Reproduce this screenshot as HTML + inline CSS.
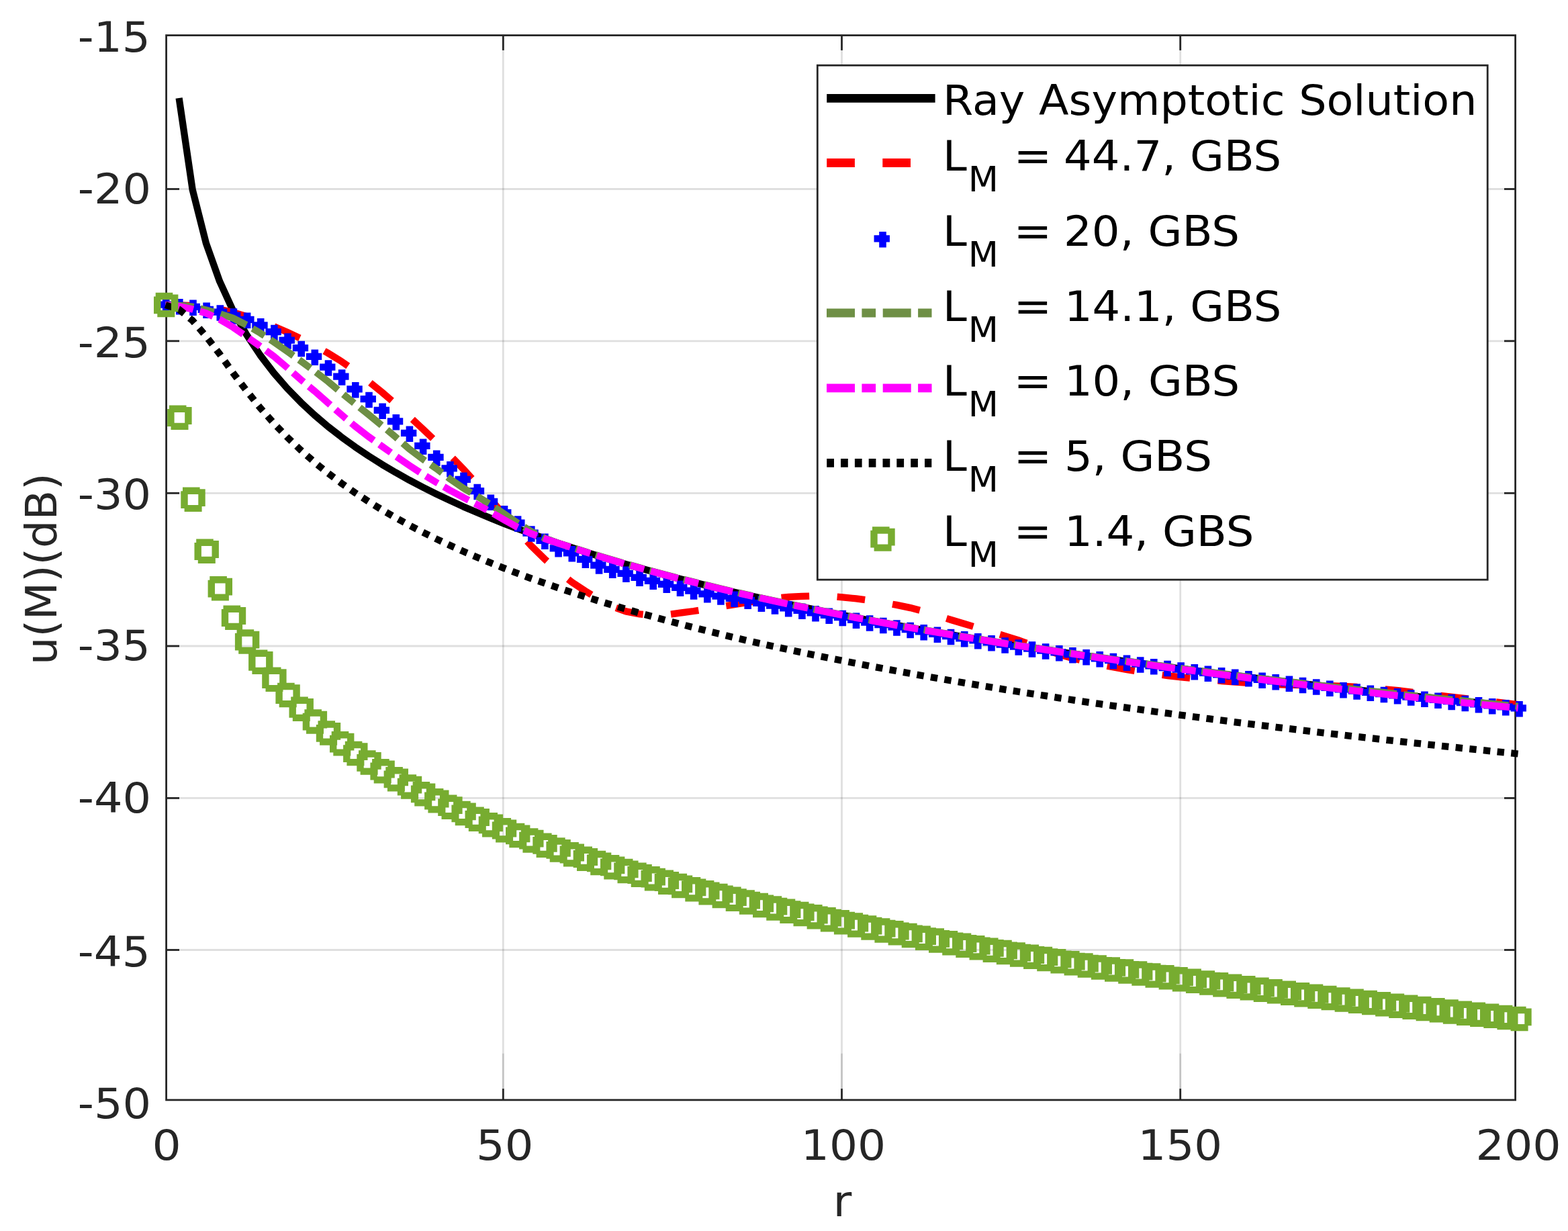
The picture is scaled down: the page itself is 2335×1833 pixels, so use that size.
<!DOCTYPE html>
<html lang="en"><head><meta charset="utf-8"><title>u(M)(dB) versus r</title>
<style>html,body{margin:0;padding:0;background:#fff;overflow:hidden}svg{display:block}text{font-family:'DejaVu Sans','Liberation Sans',sans-serif}</style></head><body>
<svg width="2335" height="1833" viewBox="0 0 2335 1833" role="img" aria-label="u(M)(dB) versus r for the ray asymptotic solution and Gaussian beam summation">
<rect width="2335" height="1833" fill="#fff"/>
<g stroke="#262626" stroke-opacity="0.15" stroke-width="2.8" fill="none">
<line x1="247.6" y1="281.5" x2="2256.6" y2="281.5"/>
<line x1="247.6" y1="507.8" x2="2256.6" y2="507.8"/>
<line x1="247.6" y1="734.3" x2="2256.6" y2="734.3"/>
<line x1="247.6" y1="962.0" x2="2256.6" y2="962.0"/>
<line x1="247.6" y1="1188.4" x2="2256.6" y2="1188.4"/>
<line x1="247.6" y1="1414.5" x2="2256.6" y2="1414.5"/>
<line x1="749.3" y1="52.6" x2="749.3" y2="1637.9"/>
<line x1="1253.5" y1="52.6" x2="1253.5" y2="1637.9"/>
<line x1="1757.7" y1="52.6" x2="1757.7" y2="1637.9"/>
</g>
<g stroke="#262626" stroke-opacity="0.15" stroke-width="2.8" fill="none">
<line x1="749.3" y1="1568.7" x2="749.3" y2="1621.1"/>
<line x1="1253.5" y1="1568.7" x2="1253.5" y2="1621.1"/>
<line x1="1757.7" y1="1568.7" x2="1757.7" y2="1621.1"/>
</g>
<g stroke="#262626" stroke-width="2.8" fill="none">
<rect x="247.6" y="52.6" width="2009.0" height="1585.3000000000002"/>
<line x1="247.6" y1="281.5" x2="267.0" y2="281.5"/>
<line x1="2256.6" y1="281.5" x2="2240.0" y2="281.5"/>
<line x1="247.6" y1="507.8" x2="267.0" y2="507.8"/>
<line x1="2256.6" y1="507.8" x2="2240.0" y2="507.8"/>
<line x1="247.6" y1="734.3" x2="267.0" y2="734.3"/>
<line x1="2256.6" y1="734.3" x2="2240.0" y2="734.3"/>
<line x1="247.6" y1="962.0" x2="267.0" y2="962.0"/>
<line x1="2256.6" y1="962.0" x2="2240.0" y2="962.0"/>
<line x1="247.6" y1="1188.4" x2="267.0" y2="1188.4"/>
<line x1="2256.6" y1="1188.4" x2="2240.0" y2="1188.4"/>
<line x1="247.6" y1="1414.5" x2="267.0" y2="1414.5"/>
<line x1="2256.6" y1="1414.5" x2="2240.0" y2="1414.5"/>
<line x1="749.3" y1="1637.9" x2="749.3" y2="1621.1"/>
<line x1="749.3" y1="52.6" x2="749.3" y2="74.9"/>
<line x1="1253.5" y1="1637.9" x2="1253.5" y2="1621.1"/>
<line x1="1253.5" y1="52.6" x2="1253.5" y2="74.9"/>
<line x1="1757.7" y1="1637.9" x2="1757.7" y2="1621.1"/>
<line x1="1757.7" y1="52.6" x2="1757.7" y2="74.9"/>
</g>
<path d="M266.6 146.0 L286.7 282.4 L306.9 362.2 L327.1 418.9 L347.2 462.8 L367.4 498.7 L387.6 529.0 L407.8 555.3 L427.9 578.5 L448.1 599.2 L468.3 618.0 L488.4 635.1 L508.6 650.8 L528.8 665.4 L549.0 679.0 L569.1 691.7 L589.3 703.6 L609.5 714.9 L629.6 725.5 L649.8 735.6 L670.0 745.2 L690.1 754.4 L710.3 763.1 L730.5 771.5 L750.7 779.6 L770.8 787.3 L791.0 794.7 L811.2 801.9 L831.3 808.8 L851.5 815.4 L871.7 821.9 L891.8 828.1 L912.0 834.2 L932.2 840.1 L952.4 845.8 L972.5 851.3 L992.7 856.7 L1012.9 862.0 L1033.0 867.1 L1053.2 872.1 L1073.4 876.9 L1093.5 881.7 L1113.7 886.3 L1133.9 890.8 L1154.1 895.2 L1174.2 899.6 L1194.4 903.8 L1214.6 907.9 L1234.7 912.0 L1254.9 916.0 L1275.1 919.9 L1295.2 923.7 L1315.4 927.4 L1335.6 931.1 L1355.8 934.7 L1375.9 938.3 L1396.1 941.8 L1416.3 945.2 L1436.4 948.6 L1456.6 951.9 L1476.8 955.1 L1496.9 958.3 L1517.1 961.5 L1537.3 964.6 L1557.5 967.6 L1577.6 970.6 L1597.8 973.6 L1618.0 976.5 L1638.1 979.4 L1658.3 982.2 L1678.5 985.0 L1698.6 987.7 L1718.8 990.5 L1739.0 993.1 L1759.2 995.8 L1779.3 998.4 L1799.5 1001.0 L1819.7 1003.5 L1839.8 1006.0 L1860.0 1008.5 L1880.2 1010.9 L1900.3 1013.3 L1920.5 1015.7 L1940.7 1018.1 L1960.9 1020.4 L1981.0 1022.7 L2001.2 1025.0 L2021.4 1027.2 L2041.5 1029.5 L2061.7 1031.7 L2081.9 1033.8 L2102.0 1036.0 L2122.2 1038.1 L2142.4 1040.2 L2162.6 1042.3 L2182.7 1044.4 L2202.9 1046.4 L2223.1 1048.4 L2243.2 1050.4 L2260.6 1052.1" fill="none" stroke="#000" stroke-width="10.3" stroke-linejoin="round"/>
<path d="M246.4 454.2 L266.6 454.5 L286.7 455.2 L306.9 457.3 L327.1 460.5 L347.2 465.2 L367.4 471.1 L387.6 478.4 L407.8 486.1 L427.9 494.6 L448.1 504.1 L468.3 514.5 L488.4 525.8 L508.6 538.2 L528.8 552.4 L549.0 568.0 L569.1 584.3 L589.3 601.6 L609.5 619.9 L629.6 638.7 L649.8 658.0 L670.0 677.9 L690.1 698.6 L710.3 720.7 L730.5 743.6 L750.7 766.4 L770.8 790.1 L791.0 812.8 L811.2 832.5 L831.3 850.7 L851.5 866.8 L871.7 880.1 L891.8 892.6 L912.0 903.3 L932.2 910.4 L952.4 914.4 L972.5 916.5 L992.7 915.4 L1012.9 912.7 L1033.0 910.0 L1053.2 906.8 L1073.4 903.4 L1093.5 900.2 L1113.7 897.0 L1133.9 893.8 L1154.1 890.9 L1174.2 888.8 L1194.4 887.9 L1214.6 887.3 L1234.7 887.5 L1254.9 889.3 L1275.1 891.4 L1295.2 894.0 L1315.4 897.2 L1335.6 900.9 L1355.8 905.1 L1375.9 910.4 L1396.1 916.6 L1416.3 923.0 L1436.4 929.0 L1456.6 935.0 L1476.8 941.0 L1496.9 947.1 L1517.1 953.5 L1537.3 960.6 L1557.5 967.7 L1577.6 974.5 L1597.8 980.2 L1618.0 985.1 L1638.1 989.6 L1658.3 993.5 L1678.5 997.1 L1698.6 1000.4 L1718.8 1003.4 L1739.0 1006.1 L1759.2 1008.4 L1779.3 1010.5 L1799.5 1012.3 L1819.7 1014.0 L1839.8 1015.5 L1860.0 1016.9 L1880.2 1018.2 L1900.3 1019.2 L1920.5 1019.8 L1940.7 1020.1 L1960.9 1020.5 L1981.0 1021.1 L2001.2 1021.9 L2021.4 1023.0 L2041.5 1024.4 L2061.7 1026.2 L2081.9 1028.2 L2102.0 1030.5 L2122.2 1033.0 L2142.4 1035.5 L2162.6 1037.8 L2182.7 1040.2 L2202.9 1042.5 L2223.1 1044.9 L2243.2 1047.2 L2260.6 1049.2" fill="none" stroke="#f00" stroke-width="10.3" stroke-dasharray="41.7 41.5"/>
<path d="M241.9 443.3h10.6v5.25h5.14v10.25h-5.14v8h-10.6v-8h-7.66v-10.25h7.66zM262.0 445.1h10.6v5.25h5.14v10.25h-5.14v8h-10.6v-8h-7.66v-10.25h7.66zM282.2 446.5h10.6v5.25h5.14v10.25h-5.14v8h-10.6v-8h-7.66v-10.25h7.66zM302.3 450.6h10.6v5.25h5.14v10.25h-5.14v8h-10.6v-8h-7.66v-10.25h7.66zM322.5 454.2h10.6v5.25h5.14v10.25h-5.14v8h-10.6v-8h-7.66v-10.25h7.66zM342.6 459.2h10.6v5.25h5.14v10.25h-5.14v8h-10.6v-8h-7.66v-10.25h7.66zM362.8 465.5h10.6v5.25h5.14v10.25h-5.14v8h-10.6v-8h-7.66v-10.25h7.66zM382.9 474.1h10.6v5.25h5.14v10.25h-5.14v8h-10.6v-8h-7.66v-10.25h7.66zM403.1 483.7h10.6v5.25h5.14v10.25h-5.14v8h-10.6v-8h-7.66v-10.25h7.66zM423.2 496.3h10.6v5.25h5.14v10.25h-5.14v8h-10.6v-8h-7.66v-10.25h7.66zM443.4 507.7h10.6v5.25h5.14v10.25h-5.14v8h-10.6v-8h-7.66v-10.25h7.66zM463.5 520.4h10.6v5.25h5.14v10.25h-5.14v8h-10.6v-8h-7.66v-10.25h7.66zM483.7 536.2h10.6v5.25h5.14v10.25h-5.14v8h-10.6v-8h-7.66v-10.25h7.66zM503.8 550.3h10.6v5.25h5.14v10.25h-5.14v8h-10.6v-8h-7.66v-10.25h7.66zM524.0 568.9h10.6v5.25h5.14v10.25h-5.14v8h-10.6v-8h-7.66v-10.25h7.66zM544.2 583.8h10.6v5.25h5.14v10.25h-5.14v8h-10.6v-8h-7.66v-10.25h7.66zM564.3 600.6h10.6v5.25h5.14v10.25h-5.14v8h-10.6v-8h-7.66v-10.25h7.66zM584.5 616.9h10.6v5.25h5.14v10.25h-5.14v8h-10.6v-8h-7.66v-10.25h7.66zM604.6 634.6h10.6v5.25h5.14v10.25h-5.14v8h-10.6v-8h-7.66v-10.25h7.66zM624.8 653.6h10.6v5.25h5.14v10.25h-5.14v8h-10.6v-8h-7.66v-10.25h7.66zM644.9 670.4h10.6v5.25h5.14v10.25h-5.14v8h-10.6v-8h-7.66v-10.25h7.66zM665.1 687.1h10.6v5.25h5.14v10.25h-5.14v8h-10.6v-8h-7.66v-10.25h7.66zM685.2 703.5h10.6v5.25h5.14v10.25h-5.14v8h-10.6v-8h-7.66v-10.25h7.66zM705.4 720.7h10.6v5.25h5.14v10.25h-5.14v8h-10.6v-8h-7.66v-10.25h7.66zM725.5 736.5h10.6v5.25h5.14v10.25h-5.14v8h-10.6v-8h-7.66v-10.25h7.66zM745.7 752.9h10.6v5.25h5.14v10.25h-5.14v8h-10.6v-8h-7.66v-10.25h7.66zM765.8 768.3h10.6v5.25h5.14v10.25h-5.14v8h-10.6v-8h-7.66v-10.25h7.66zM786.0 783.2h10.6v5.25h5.14v10.25h-5.14v8h-10.6v-8h-7.66v-10.25h7.66zM806.1 794.6h10.6v5.25h5.14v10.25h-5.14v8h-10.6v-8h-7.66v-10.25h7.66zM826.3 805.9h10.6v5.25h5.14v10.25h-5.14v8h-10.6v-8h-7.66v-10.25h7.66zM846.5 813.1h10.6v5.25h5.14v10.25h-5.14v8h-10.6v-8h-7.66v-10.25h7.66zM866.6 822.4h10.6v5.25h5.14v10.25h-5.14v8h-10.6v-8h-7.66v-10.25h7.66zM886.8 831.3h10.6v5.25h5.14v10.25h-5.14v8h-10.6v-8h-7.66v-10.25h7.66zM906.9 837.6h10.6v5.25h5.14v10.25h-5.14v8h-10.6v-8h-7.66v-10.25h7.66zM927.1 843.6h10.6v5.25h5.14v10.25h-5.14v8h-10.6v-8h-7.66v-10.25h7.66zM947.2 849.4h10.6v5.25h5.14v10.25h-5.14v8h-10.6v-8h-7.66v-10.25h7.66zM967.4 854.6h10.6v5.25h5.14v10.25h-5.14v8h-10.6v-8h-7.66v-10.25h7.66zM987.5 859.6h10.6v5.25h5.14v10.25h-5.14v8h-10.6v-8h-7.66v-10.25h7.66zM1007.7 864.5h10.6v5.25h5.14v10.25h-5.14v8h-10.6v-8h-7.66v-10.25h7.66zM1027.8 869.3h10.6v5.25h5.14v10.25h-5.14v8h-10.6v-8h-7.66v-10.25h7.66zM1048.0 873.9h10.6v5.25h5.14v10.25h-5.14v8h-10.6v-8h-7.66v-10.25h7.66zM1068.1 877.3h10.6v5.25h5.14v10.25h-5.14v8h-10.6v-8h-7.66v-10.25h7.66zM1088.3 880.5h10.6v5.25h5.14v10.25h-5.14v8h-10.6v-8h-7.66v-10.25h7.66zM1108.4 883.6h10.6v5.25h5.14v10.25h-5.14v8h-10.6v-8h-7.66v-10.25h7.66zM1128.6 887.5h10.6v5.25h5.14v10.25h-5.14v8h-10.6v-8h-7.66v-10.25h7.66zM1148.7 891.3h10.6v5.25h5.14v10.25h-5.14v8h-10.6v-8h-7.66v-10.25h7.66zM1168.9 894.9h10.6v5.25h5.14v10.25h-5.14v8h-10.6v-8h-7.66v-10.25h7.66zM1189.1 898.5h10.6v5.25h5.14v10.25h-5.14v8h-10.6v-8h-7.66v-10.25h7.66zM1209.2 902.0h10.6v5.25h5.14v10.25h-5.14v8h-10.6v-8h-7.66v-10.25h7.66zM1229.4 905.4h10.6v5.25h5.14v10.25h-5.14v8h-10.6v-8h-7.66v-10.25h7.66zM1249.5 908.8h10.6v5.25h5.14v10.25h-5.14v8h-10.6v-8h-7.66v-10.25h7.66zM1269.7 912.5h10.6v5.25h5.14v10.25h-5.14v8h-10.6v-8h-7.66v-10.25h7.66zM1289.8 916.2h10.6v5.25h5.14v10.25h-5.14v8h-10.6v-8h-7.66v-10.25h7.66zM1310.0 919.7h10.6v5.25h5.14v10.25h-5.14v8h-10.6v-8h-7.66v-10.25h7.66zM1330.1 923.3h10.6v5.25h5.14v10.25h-5.14v8h-10.6v-8h-7.66v-10.25h7.66zM1350.3 926.7h10.6v5.25h5.14v10.25h-5.14v8h-10.6v-8h-7.66v-10.25h7.66zM1370.4 930.1h10.6v5.25h5.14v10.25h-5.14v8h-10.6v-8h-7.66v-10.25h7.66zM1390.6 933.4h10.6v5.25h5.14v10.25h-5.14v8h-10.6v-8h-7.66v-10.25h7.66zM1410.7 936.7h10.6v5.25h5.14v10.25h-5.14v8h-10.6v-8h-7.66v-10.25h7.66zM1430.9 939.9h10.6v5.25h5.14v10.25h-5.14v8h-10.6v-8h-7.66v-10.25h7.66zM1451.0 943.0h10.6v5.25h5.14v10.25h-5.14v8h-10.6v-8h-7.66v-10.25h7.66zM1471.2 946.1h10.6v5.25h5.14v10.25h-5.14v8h-10.6v-8h-7.66v-10.25h7.66zM1491.3 949.2h10.6v5.25h5.14v10.25h-5.14v8h-10.6v-8h-7.66v-10.25h7.66zM1511.5 952.3h10.6v5.25h5.14v10.25h-5.14v8h-10.6v-8h-7.66v-10.25h7.66zM1531.7 955.3h10.6v5.25h5.14v10.25h-5.14v8h-10.6v-8h-7.66v-10.25h7.66zM1551.8 958.2h10.6v5.25h5.14v10.25h-5.14v8h-10.6v-8h-7.66v-10.25h7.66zM1572.0 961.1h10.6v5.25h5.14v10.25h-5.14v8h-10.6v-8h-7.66v-10.25h7.66zM1592.1 964.1h10.6v5.25h5.14v10.25h-5.14v8h-10.6v-8h-7.66v-10.25h7.66zM1612.3 967.0h10.6v5.25h5.14v10.25h-5.14v8h-10.6v-8h-7.66v-10.25h7.66zM1632.4 969.9h10.6v5.25h5.14v10.25h-5.14v8h-10.6v-8h-7.66v-10.25h7.66zM1652.6 972.7h10.6v5.25h5.14v10.25h-5.14v8h-10.6v-8h-7.66v-10.25h7.66zM1672.7 975.5h10.6v5.25h5.14v10.25h-5.14v8h-10.6v-8h-7.66v-10.25h7.66zM1692.9 978.3h10.6v5.25h5.14v10.25h-5.14v8h-10.6v-8h-7.66v-10.25h7.66zM1713.0 981.0h10.6v5.25h5.14v10.25h-5.14v8h-10.6v-8h-7.66v-10.25h7.66zM1733.2 983.7h10.6v5.25h5.14v10.25h-5.14v8h-10.6v-8h-7.66v-10.25h7.66zM1753.3 986.3h10.6v5.25h5.14v10.25h-5.14v8h-10.6v-8h-7.66v-10.25h7.66zM1773.5 988.9h10.6v5.25h5.14v10.25h-5.14v8h-10.6v-8h-7.66v-10.25h7.66zM1793.6 991.5h10.6v5.25h5.14v10.25h-5.14v8h-10.6v-8h-7.66v-10.25h7.66zM1813.8 994.0h10.6v5.25h5.14v10.25h-5.14v8h-10.6v-8h-7.66v-10.25h7.66zM1833.9 996.5h10.6v5.25h5.14v10.25h-5.14v8h-10.6v-8h-7.66v-10.25h7.66zM1854.1 999.0h10.6v5.25h5.14v10.25h-5.14v8h-10.6v-8h-7.66v-10.25h7.66zM1874.3 1001.5h10.6v5.25h5.14v10.25h-5.14v8h-10.6v-8h-7.66v-10.25h7.66zM1894.4 1004.0h10.6v5.25h5.14v10.25h-5.14v8h-10.6v-8h-7.66v-10.25h7.66zM1914.6 1006.4h10.6v5.25h5.14v10.25h-5.14v8h-10.6v-8h-7.66v-10.25h7.66zM1934.7 1008.8h10.6v5.25h5.14v10.25h-5.14v8h-10.6v-8h-7.66v-10.25h7.66zM1954.9 1011.2h10.6v5.25h5.14v10.25h-5.14v8h-10.6v-8h-7.66v-10.25h7.66zM1975.0 1013.6h10.6v5.25h5.14v10.25h-5.14v8h-10.6v-8h-7.66v-10.25h7.66zM1995.2 1015.9h10.6v5.25h5.14v10.25h-5.14v8h-10.6v-8h-7.66v-10.25h7.66zM2015.3 1018.2h10.6v5.25h5.14v10.25h-5.14v8h-10.6v-8h-7.66v-10.25h7.66zM2035.5 1020.5h10.6v5.25h5.14v10.25h-5.14v8h-10.6v-8h-7.66v-10.25h7.66zM2055.6 1022.8h10.6v5.25h5.14v10.25h-5.14v8h-10.6v-8h-7.66v-10.25h7.66zM2075.8 1025.0h10.6v5.25h5.14v10.25h-5.14v8h-10.6v-8h-7.66v-10.25h7.66zM2095.9 1027.2h10.6v5.25h5.14v10.25h-5.14v8h-10.6v-8h-7.66v-10.25h7.66zM2116.1 1029.4h10.6v5.25h5.14v10.25h-5.14v8h-10.6v-8h-7.66v-10.25h7.66zM2136.2 1031.5h10.6v5.25h5.14v10.25h-5.14v8h-10.6v-8h-7.66v-10.25h7.66zM2156.4 1033.7h10.6v5.25h5.14v10.25h-5.14v8h-10.6v-8h-7.66v-10.25h7.66zM2176.5 1035.8h10.6v5.25h5.14v10.25h-5.14v8h-10.6v-8h-7.66v-10.25h7.66zM2196.7 1037.9h10.6v5.25h5.14v10.25h-5.14v8h-10.6v-8h-7.66v-10.25h7.66zM2216.9 1040.0h10.6v5.25h5.14v10.25h-5.14v8h-10.6v-8h-7.66v-10.25h7.66zM2237.0 1042.0h10.6v5.25h5.14v10.25h-5.14v8h-10.6v-8h-7.66v-10.25h7.66zM2257.2 1044.1h10.6v5.25h5.14v10.25h-5.14v8h-10.6v-8h-7.66v-10.25h7.66z" fill="#00f"/>
<path d="M246.4 454.2 L266.6 454.8 L286.7 456.7 L306.9 461.5 L327.1 467.1 L347.2 473.8 L367.4 484.1 L387.6 495.9 L407.8 509.3 L427.9 523.3 L448.1 537.7 L468.3 552.5 L488.4 568.0 L508.6 585.0 L528.8 601.5 L549.0 617.4 L569.1 633.9 L589.3 650.9 L609.5 668.6 L629.6 683.6 L649.8 697.7 L670.0 713.2 L690.1 726.9 L710.3 738.7 L730.5 751.3 L750.7 765.1 L770.8 778.8 L791.0 791.3 L811.2 801.4 L831.3 808.8 L851.5 815.1 L871.7 821.4 L891.8 827.7 L912.0 833.7 L932.2 839.6 L952.4 845.3 L972.5 850.9 L992.7 856.3 L1012.9 861.5 L1033.0 866.6 L1053.2 871.6 L1073.4 876.5 L1093.5 881.2 L1113.7 885.8 L1133.9 890.4 L1154.1 894.8 L1174.2 899.1 L1194.4 903.3 L1214.6 907.5 L1234.7 911.6 L1254.9 915.5 L1275.1 919.4 L1295.2 923.2 L1315.4 927.0 L1335.6 930.7 L1355.8 934.3 L1375.9 937.8 L1396.1 941.3 L1416.3 944.7 L1436.4 948.1 L1456.6 951.4 L1476.8 954.7 L1496.9 957.9 L1517.1 961.0 L1537.3 964.1 L1557.5 967.2 L1577.6 970.2 L1597.8 973.1 L1618.0 976.0 L1638.1 978.9 L1658.3 981.8 L1678.5 984.5 L1698.6 987.3 L1718.8 990.0 L1739.0 992.7 L1759.2 995.3 L1779.3 997.9 L1799.5 1000.5 L1819.7 1003.1 L1839.8 1005.6 L1860.0 1008.0 L1880.2 1010.5 L1900.3 1012.9 L1920.5 1015.3 L1940.7 1017.6 L1960.9 1020.0 L1981.0 1022.3 L2001.2 1024.5 L2021.4 1026.8 L2041.5 1029.0 L2061.7 1031.2 L2081.9 1033.4 L2102.0 1035.5 L2122.2 1037.7 L2142.4 1039.8 L2162.6 1041.9 L2182.7 1043.9 L2202.9 1046.0 L2223.1 1048.0 L2243.2 1050.0 L2260.6 1051.7" fill="none" stroke="#6e8f45" stroke-width="10.3" stroke-dasharray="42 10.4 20.8 10.4"/>
<path d="M246.4 454.2 L266.6 456.1 L286.7 460.5 L306.9 466.3 L327.1 475.6 L347.2 487.4 L367.4 501.3 L387.6 515.7 L407.8 530.6 L427.9 547.7 L448.1 565.4 L468.3 582.2 L488.4 599.9 L508.6 617.7 L528.8 634.7 L549.0 650.3 L569.1 664.7 L589.3 679.1 L609.5 693.0 L629.6 706.1 L649.8 718.4 L670.0 730.0 L690.1 740.8 L710.3 751.2 L730.5 762.3 L750.7 774.0 L770.8 785.2 L791.0 794.7 L811.2 802.2 L831.3 808.9 L851.5 815.4 L871.7 821.9 L891.8 828.1 L912.0 834.2 L932.2 840.1 L952.4 845.8 L972.5 851.3 L992.7 856.7 L1012.9 862.0 L1033.0 867.1 L1053.2 872.1 L1073.4 876.9 L1093.5 881.7 L1113.7 886.3 L1133.9 890.8 L1154.1 895.2 L1174.2 899.6 L1194.4 903.8 L1214.6 907.9 L1234.7 912.0 L1254.9 916.0 L1275.1 919.9 L1295.2 923.7 L1315.4 927.4 L1335.6 931.1 L1355.8 934.7 L1375.9 938.3 L1396.1 941.8 L1416.3 945.2 L1436.4 948.6 L1456.6 951.9 L1476.8 955.1 L1496.9 958.3 L1517.1 961.5 L1537.3 964.6 L1557.5 967.6 L1577.6 970.7 L1597.8 973.7 L1618.0 976.7 L1638.1 979.6 L1658.3 982.5 L1678.5 985.4 L1698.6 988.2 L1718.8 991.0 L1739.0 993.8 L1759.2 996.5 L1779.3 999.2 L1799.5 1001.9 L1819.7 1004.5 L1839.8 1007.1 L1860.0 1009.6 L1880.2 1012.1 L1900.3 1014.6 L1920.5 1017.1 L1940.7 1019.5 L1960.9 1021.9 L1981.0 1024.3 L2001.2 1026.7 L2021.4 1029.0 L2041.5 1031.3 L2061.7 1033.6 L2081.9 1035.8 L2102.0 1038.0 L2122.2 1040.2 L2142.4 1042.4 L2162.6 1044.6 L2182.7 1046.6 L2202.9 1048.7 L2223.1 1050.7 L2243.2 1052.7 L2260.6 1054.4" fill="none" stroke="#f0f" stroke-width="10.3" stroke-dasharray="42 10.4 20.8 10.4"/>
<path d="M246.4 454.2 L266.6 460.8 L286.7 477.3 L306.9 500.7 L327.1 527.1 L347.2 555.5 L367.4 582.0 L387.6 607.4 L407.8 630.3 L427.9 651.1 L448.1 670.4 L468.3 688.2 L488.4 704.5 L508.6 719.7 L528.8 733.7 L549.0 746.9 L569.1 759.3 L589.3 771.0 L609.5 782.1 L629.6 792.6 L649.8 802.5 L670.0 812.0 L690.1 821.1 L710.3 829.7 L730.5 838.1 L750.7 846.1 L770.8 853.8 L791.0 861.3 L811.2 868.4 L831.3 875.4 L851.5 882.1 L871.7 888.6 L891.8 894.9 L912.0 901.0 L932.2 907.0 L952.4 912.8 L972.5 918.4 L992.7 923.9 L1012.9 929.2 L1033.0 934.4 L1053.2 939.5 L1073.4 944.4 L1093.5 949.3 L1113.7 954.0 L1133.9 958.5 L1154.1 963.0 L1174.2 967.3 L1194.4 971.6 L1214.6 975.8 L1234.7 979.9 L1254.9 983.9 L1275.1 987.8 L1295.2 991.7 L1315.4 995.5 L1335.6 999.2 L1355.8 1002.9 L1375.9 1006.5 L1396.1 1010.0 L1416.3 1013.5 L1436.4 1016.9 L1456.6 1020.2 L1476.8 1023.5 L1496.9 1026.8 L1517.1 1030.0 L1537.3 1033.1 L1557.5 1036.2 L1577.6 1039.3 L1597.8 1042.3 L1618.0 1045.3 L1638.1 1048.2 L1658.3 1051.1 L1678.5 1053.9 L1698.6 1056.7 L1718.8 1059.5 L1739.0 1062.2 L1759.2 1064.9 L1779.3 1067.5 L1799.5 1070.2 L1819.7 1072.7 L1839.8 1075.3 L1860.0 1077.8 L1880.2 1080.3 L1900.3 1082.8 L1920.5 1085.2 L1940.7 1087.6 L1960.9 1090.0 L1981.0 1092.4 L2001.2 1094.7 L2021.4 1097.0 L2041.5 1099.2 L2061.7 1101.5 L2081.9 1103.7 L2102.0 1105.9 L2122.2 1108.1 L2142.4 1110.3 L2162.6 1112.4 L2182.7 1114.5 L2202.9 1116.6 L2223.1 1118.7 L2243.2 1120.7 L2260.6 1122.5" fill="none" stroke="#000" stroke-width="10.3" stroke-dasharray="10.4 10.360"/>
<path d="M231.7 435.8L257.3 435.8L257.3 438.4L265.4 438.4L265.4 464.2L260.3 464.2L260.3 472.3L234.3 472.3L234.3 467.2L229.0 467.2L229.0 441.4L231.7 441.4ZM239.4 446.3L239.4 462.1L255.0 462.1L255.0 446.3ZM251.9 603.5L277.5 603.5L277.5 606.1L285.6 606.1L285.6 631.9L280.5 631.9L280.5 640.0L254.5 640.0L254.5 634.9L249.2 634.9L249.2 609.1L251.9 609.1ZM259.6 614.0L259.6 629.8L275.2 629.8L275.2 614.0ZM272.0 725.6L297.6 725.6L297.6 728.2L305.7 728.2L305.7 754.0L300.6 754.0L300.6 762.1L274.6 762.1L274.6 757.0L269.3 757.0L269.3 731.2L272.0 731.2ZM279.7 736.1L279.7 751.9L295.3 751.9L295.3 736.1ZM292.2 802.5L317.8 802.5L317.8 805.1L325.9 805.1L325.9 830.9L320.8 830.9L320.8 839.0L294.8 839.0L294.8 833.9L289.5 833.9L289.5 808.1L292.2 808.1ZM299.9 813.0L299.9 828.8L315.5 828.8L315.5 813.0ZM312.3 858.1L337.9 858.1L337.9 860.7L346.0 860.7L346.0 886.5L340.9 886.5L340.9 894.6L314.9 894.6L314.9 889.5L309.6 889.5L309.6 863.7L312.3 863.7ZM320.0 868.6L320.0 884.4L335.6 884.4L335.6 868.6ZM332.5 901.5L358.1 901.5L358.1 904.1L366.2 904.1L366.2 929.9L361.1 929.9L361.1 938.0L335.1 938.0L335.1 932.9L329.8 932.9L329.8 907.1L332.5 907.1ZM340.2 912.0L340.2 927.8L355.8 927.8L355.8 912.0ZM352.6 937.2L378.2 937.2L378.2 939.8L386.3 939.8L386.3 965.6L381.2 965.6L381.2 973.7L355.2 973.7L355.2 968.6L349.9 968.6L349.9 942.8L352.6 942.8ZM360.3 947.7L360.3 963.5L375.9 963.5L375.9 947.7ZM372.8 967.4L398.4 967.4L398.4 970.0L406.5 970.0L406.5 995.8L401.4 995.8L401.4 1003.9L375.4 1003.9L375.4 998.8L370.1 998.8L370.1 973.0L372.8 973.0ZM380.5 977.9L380.5 993.7L396.1 993.7L396.1 977.9ZM392.9 993.6L418.5 993.6L418.5 996.2L426.6 996.2L426.6 1022.0L421.5 1022.0L421.5 1030.1L395.5 1030.1L395.5 1025.0L390.2 1025.0L390.2 999.2L392.9 999.2ZM400.6 1004.1L400.6 1019.9L416.2 1019.9L416.2 1004.1ZM413.1 1016.7L438.7 1016.7L438.7 1019.3L446.8 1019.3L446.8 1045.1L441.7 1045.1L441.7 1053.2L415.7 1053.2L415.7 1048.1L410.4 1048.1L410.4 1022.3L413.1 1022.3ZM420.8 1027.2L420.8 1043.0L436.4 1043.0L436.4 1027.2ZM433.2 1037.4L458.8 1037.4L458.8 1040.0L466.9 1040.0L466.9 1065.8L461.8 1065.8L461.8 1073.9L435.8 1073.9L435.8 1068.8L430.5 1068.8L430.5 1043.0L433.2 1043.0ZM440.9 1047.9L440.9 1063.7L456.5 1063.7L456.5 1047.9ZM453.4 1056.2L479.0 1056.2L479.0 1058.8L487.1 1058.8L487.1 1084.6L482.0 1084.6L482.0 1092.7L456.0 1092.7L456.0 1087.6L450.7 1087.6L450.7 1061.8L453.4 1061.8ZM461.1 1066.7L461.1 1082.5L476.7 1082.5L476.7 1066.7ZM473.5 1073.3L499.1 1073.3L499.1 1075.9L507.2 1075.9L507.2 1101.7L502.1 1101.7L502.1 1109.8L476.1 1109.8L476.1 1104.7L470.8 1104.7L470.8 1078.9L473.5 1078.9ZM481.2 1083.8L481.2 1099.6L496.8 1099.6L496.8 1083.8ZM493.7 1089.1L519.3 1089.1L519.3 1091.7L527.4 1091.7L527.4 1117.5L522.3 1117.5L522.3 1125.6L496.3 1125.6L496.3 1120.5L491.0 1120.5L491.0 1094.7L493.7 1094.7ZM501.4 1099.6L501.4 1115.4L517.0 1115.4L517.0 1099.6ZM513.8 1103.7L539.4 1103.7L539.4 1106.3L547.5 1106.3L547.5 1132.1L542.4 1132.1L542.4 1140.2L516.4 1140.2L516.4 1135.1L511.1 1135.1L511.1 1109.3L513.8 1109.3ZM521.5 1114.2L521.5 1130.0L537.1 1130.0L537.1 1114.2ZM534.0 1117.3L559.6 1117.3L559.6 1119.9L567.7 1119.9L567.7 1145.7L562.6 1145.7L562.6 1153.8L536.6 1153.8L536.6 1148.7L531.3 1148.7L531.3 1122.9L534.0 1122.9ZM541.7 1127.8L541.7 1143.6L557.3 1143.6L557.3 1127.8ZM554.1 1130.0L579.7 1130.0L579.7 1132.6L587.8 1132.6L587.8 1158.4L582.7 1158.4L582.7 1166.5L556.7 1166.5L556.7 1161.4L551.4 1161.4L551.4 1135.6L554.1 1135.6ZM561.8 1140.5L561.8 1156.3L577.4 1156.3L577.4 1140.5ZM574.3 1141.9L599.9 1141.9L599.9 1144.5L608.0 1144.5L608.0 1170.3L602.9 1170.3L602.9 1178.4L576.9 1178.4L576.9 1173.3L571.6 1173.3L571.6 1147.5L574.3 1147.5ZM582.0 1152.4L582.0 1168.2L597.6 1168.2L597.6 1152.4ZM594.5 1153.2L620.1 1153.2L620.1 1155.8L628.2 1155.8L628.2 1181.6L623.1 1181.6L623.1 1189.7L597.1 1189.7L597.1 1184.6L591.8 1184.6L591.8 1158.8L594.5 1158.8ZM602.2 1163.7L602.2 1179.5L617.8 1179.5L617.8 1163.7ZM614.6 1163.9L640.2 1163.9L640.2 1166.5L648.3 1166.5L648.3 1192.3L643.2 1192.3L643.2 1200.4L617.2 1200.4L617.2 1195.3L611.9 1195.3L611.9 1169.5L614.6 1169.5ZM622.3 1174.4L622.3 1190.2L637.9 1190.2L637.9 1174.4ZM634.8 1174.0L660.4 1174.0L660.4 1176.6L668.5 1176.6L668.5 1202.4L663.4 1202.4L663.4 1210.5L637.4 1210.5L637.4 1205.4L632.1 1205.4L632.1 1179.6L634.8 1179.6ZM642.5 1184.5L642.5 1200.3L658.1 1200.3L658.1 1184.5ZM654.9 1183.6L680.5 1183.6L680.5 1186.2L688.6 1186.2L688.6 1212.0L683.5 1212.0L683.5 1220.1L657.5 1220.1L657.5 1215.0L652.2 1215.0L652.2 1189.2L654.9 1189.2ZM662.6 1194.1L662.6 1209.9L678.2 1209.9L678.2 1194.1ZM675.1 1192.8L700.7 1192.8L700.7 1195.4L708.8 1195.4L708.8 1221.2L703.7 1221.2L703.7 1229.3L677.7 1229.3L677.7 1224.2L672.4 1224.2L672.4 1198.4L675.1 1198.4ZM682.8 1203.3L682.8 1219.1L698.4 1219.1L698.4 1203.3ZM695.2 1201.5L720.8 1201.5L720.8 1204.1L728.9 1204.1L728.9 1229.9L723.8 1229.9L723.8 1238.0L697.8 1238.0L697.8 1232.9L692.5 1232.9L692.5 1207.1L695.2 1207.1ZM702.9 1212.0L702.9 1227.8L718.5 1227.8L718.5 1212.0ZM715.4 1209.9L741.0 1209.9L741.0 1212.5L749.1 1212.5L749.1 1238.3L744.0 1238.3L744.0 1246.4L718.0 1246.4L718.0 1241.3L712.7 1241.3L712.7 1215.5L715.4 1215.5ZM723.1 1220.4L723.1 1236.2L738.7 1236.2L738.7 1220.4ZM735.5 1218.0L761.1 1218.0L761.1 1220.6L769.2 1220.6L769.2 1246.4L764.1 1246.4L764.1 1254.5L738.1 1254.5L738.1 1249.4L732.8 1249.4L732.8 1223.6L735.5 1223.6ZM743.2 1228.5L743.2 1244.3L758.8 1244.3L758.8 1228.5ZM755.7 1225.8L781.3 1225.8L781.3 1228.4L789.4 1228.4L789.4 1254.2L784.3 1254.2L784.3 1262.3L758.3 1262.3L758.3 1257.2L753.0 1257.2L753.0 1231.4L755.7 1231.4ZM763.4 1236.3L763.4 1252.1L779.0 1252.1L779.0 1236.3ZM775.8 1233.2L801.4 1233.2L801.4 1235.8L809.5 1235.8L809.5 1261.6L804.4 1261.6L804.4 1269.7L778.4 1269.7L778.4 1264.6L773.1 1264.6L773.1 1238.8L775.8 1238.8ZM783.5 1243.7L783.5 1259.5L799.1 1259.5L799.1 1243.7ZM796.0 1240.4L821.6 1240.4L821.6 1243.0L829.7 1243.0L829.7 1268.8L824.6 1268.8L824.6 1276.9L798.6 1276.9L798.6 1271.8L793.3 1271.8L793.3 1246.0L796.0 1246.0ZM803.7 1250.9L803.7 1266.7L819.3 1266.7L819.3 1250.9ZM816.1 1247.3L841.7 1247.3L841.7 1249.9L849.8 1249.9L849.8 1275.7L844.7 1275.7L844.7 1283.8L818.7 1283.8L818.7 1278.7L813.4 1278.7L813.4 1252.9L816.1 1252.9ZM823.8 1257.8L823.8 1273.6L839.4 1273.6L839.4 1257.8ZM836.3 1254.0L861.9 1254.0L861.9 1256.6L870.0 1256.6L870.0 1282.4L864.9 1282.4L864.9 1290.5L838.9 1290.5L838.9 1285.4L833.6 1285.4L833.6 1259.6L836.3 1259.6ZM844.0 1264.5L844.0 1280.3L859.6 1280.3L859.6 1264.5ZM856.4 1260.5L882.0 1260.5L882.0 1263.1L890.1 1263.1L890.1 1288.9L885.0 1288.9L885.0 1297.0L859.0 1297.0L859.0 1291.9L853.7 1291.9L853.7 1266.1L856.4 1266.1ZM864.1 1271.0L864.1 1286.8L879.7 1286.8L879.7 1271.0ZM876.6 1266.8L902.2 1266.8L902.2 1269.4L910.3 1269.4L910.3 1295.2L905.2 1295.2L905.2 1303.3L879.2 1303.3L879.2 1298.2L873.9 1298.2L873.9 1272.4L876.6 1272.4ZM884.3 1277.3L884.3 1293.1L899.9 1293.1L899.9 1277.3ZM896.7 1272.9L922.3 1272.9L922.3 1275.5L930.4 1275.5L930.4 1301.3L925.3 1301.3L925.3 1309.4L899.3 1309.4L899.3 1304.3L894.0 1304.3L894.0 1278.5L896.7 1278.5ZM904.4 1283.4L904.4 1299.2L920.0 1299.2L920.0 1283.4ZM916.9 1278.8L942.5 1278.8L942.5 1281.4L950.6 1281.4L950.6 1307.2L945.5 1307.2L945.5 1315.3L919.5 1315.3L919.5 1310.2L914.2 1310.2L914.2 1284.4L916.9 1284.4ZM924.6 1289.3L924.6 1305.1L940.2 1305.1L940.2 1289.3ZM937.1 1284.5L962.7 1284.5L962.7 1287.1L970.8 1287.1L970.8 1312.9L965.7 1312.9L965.7 1321.0L939.7 1321.0L939.7 1315.9L934.4 1315.9L934.4 1290.1L937.1 1290.1ZM944.8 1295.0L944.8 1310.8L960.4 1310.8L960.4 1295.0ZM957.2 1290.1L982.8 1290.1L982.8 1292.7L990.9 1292.7L990.9 1318.5L985.8 1318.5L985.8 1326.6L959.8 1326.6L959.8 1321.5L954.5 1321.5L954.5 1295.7L957.2 1295.7ZM964.9 1300.6L964.9 1316.4L980.5 1316.4L980.5 1300.6ZM977.4 1295.5L1003.0 1295.5L1003.0 1298.1L1011.1 1298.1L1011.1 1323.9L1006.0 1323.9L1006.0 1332.0L980.0 1332.0L980.0 1326.9L974.7 1326.9L974.7 1301.1L977.4 1301.1ZM985.1 1306.0L985.1 1321.8L1000.7 1321.8L1000.7 1306.0ZM997.5 1300.8L1023.1 1300.8L1023.1 1303.4L1031.2 1303.4L1031.2 1329.2L1026.1 1329.2L1026.1 1337.3L1000.1 1337.3L1000.1 1332.2L994.8 1332.2L994.8 1306.4L997.5 1306.4ZM1005.2 1311.3L1005.2 1327.1L1020.8 1327.1L1020.8 1311.3ZM1017.7 1305.9L1043.3 1305.9L1043.3 1308.5L1051.4 1308.5L1051.4 1334.3L1046.3 1334.3L1046.3 1342.4L1020.3 1342.4L1020.3 1337.3L1015.0 1337.3L1015.0 1311.5L1017.7 1311.5ZM1025.4 1316.4L1025.4 1332.2L1041.0 1332.2L1041.0 1316.4ZM1037.8 1310.9L1063.4 1310.9L1063.4 1313.5L1071.5 1313.5L1071.5 1339.3L1066.4 1339.3L1066.4 1347.4L1040.4 1347.4L1040.4 1342.3L1035.1 1342.3L1035.1 1316.5L1037.8 1316.5ZM1045.5 1321.4L1045.5 1337.2L1061.1 1337.2L1061.1 1321.4ZM1058.0 1315.8L1083.6 1315.8L1083.6 1318.4L1091.7 1318.4L1091.7 1344.2L1086.6 1344.2L1086.6 1352.3L1060.6 1352.3L1060.6 1347.2L1055.3 1347.2L1055.3 1321.4L1058.0 1321.4ZM1065.7 1326.3L1065.7 1342.1L1081.3 1342.1L1081.3 1326.3ZM1078.1 1320.6L1103.7 1320.6L1103.7 1323.2L1111.8 1323.2L1111.8 1349.0L1106.7 1349.0L1106.7 1357.1L1080.7 1357.1L1080.7 1352.0L1075.4 1352.0L1075.4 1326.2L1078.1 1326.2ZM1085.8 1331.1L1085.8 1346.9L1101.4 1346.9L1101.4 1331.1ZM1098.3 1325.2L1123.9 1325.2L1123.9 1327.8L1132.0 1327.8L1132.0 1353.6L1126.9 1353.6L1126.9 1361.7L1100.9 1361.7L1100.9 1356.6L1095.6 1356.6L1095.6 1330.8L1098.3 1330.8ZM1106.0 1335.7L1106.0 1351.5L1121.6 1351.5L1121.6 1335.7ZM1118.4 1329.8L1144.0 1329.8L1144.0 1332.4L1152.1 1332.4L1152.1 1358.2L1147.0 1358.2L1147.0 1366.3L1121.0 1366.3L1121.0 1361.2L1115.7 1361.2L1115.7 1335.4L1118.4 1335.4ZM1126.1 1340.3L1126.1 1356.1L1141.7 1356.1L1141.7 1340.3ZM1138.6 1334.2L1164.2 1334.2L1164.2 1336.8L1172.3 1336.8L1172.3 1362.6L1167.2 1362.6L1167.2 1370.7L1141.2 1370.7L1141.2 1365.6L1135.9 1365.6L1135.9 1339.8L1138.6 1339.8ZM1146.3 1344.7L1146.3 1360.5L1161.9 1360.5L1161.9 1344.7ZM1158.7 1338.6L1184.3 1338.6L1184.3 1341.2L1192.4 1341.2L1192.4 1367.0L1187.3 1367.0L1187.3 1375.1L1161.3 1375.1L1161.3 1370.0L1156.0 1370.0L1156.0 1344.2L1158.7 1344.2ZM1166.4 1349.1L1166.4 1364.9L1182.0 1364.9L1182.0 1349.1ZM1178.9 1342.8L1204.5 1342.8L1204.5 1345.4L1212.6 1345.4L1212.6 1371.2L1207.5 1371.2L1207.5 1379.3L1181.5 1379.3L1181.5 1374.2L1176.2 1374.2L1176.2 1348.4L1178.9 1348.4ZM1186.6 1353.3L1186.6 1369.1L1202.2 1369.1L1202.2 1353.3ZM1199.0 1347.0L1224.6 1347.0L1224.6 1349.6L1232.7 1349.6L1232.7 1375.4L1227.6 1375.4L1227.6 1383.5L1201.6 1383.5L1201.6 1378.4L1196.3 1378.4L1196.3 1352.6L1199.0 1352.6ZM1206.7 1357.5L1206.7 1373.3L1222.3 1373.3L1222.3 1357.5ZM1219.2 1351.1L1244.8 1351.1L1244.8 1353.7L1252.9 1353.7L1252.9 1379.5L1247.8 1379.5L1247.8 1387.6L1221.8 1387.6L1221.8 1382.5L1216.5 1382.5L1216.5 1356.7L1219.2 1356.7ZM1226.9 1361.6L1226.9 1377.4L1242.5 1377.4L1242.5 1361.6ZM1239.3 1355.1L1264.9 1355.1L1264.9 1357.7L1273.0 1357.7L1273.0 1383.5L1267.9 1383.5L1267.9 1391.6L1241.9 1391.6L1241.9 1386.5L1236.6 1386.5L1236.6 1360.7L1239.3 1360.7ZM1247.0 1365.6L1247.0 1381.4L1262.6 1381.4L1262.6 1365.6ZM1259.5 1359.2L1285.1 1359.2L1285.1 1361.8L1293.2 1361.8L1293.2 1387.6L1288.1 1387.6L1288.1 1395.7L1262.1 1395.7L1262.1 1390.6L1256.8 1390.6L1256.8 1364.8L1259.5 1364.8ZM1267.2 1369.7L1267.2 1385.5L1282.8 1385.5L1282.8 1369.7ZM1279.7 1363.2L1305.3 1363.2L1305.3 1365.8L1313.4 1365.8L1313.4 1391.6L1308.3 1391.6L1308.3 1399.7L1282.3 1399.7L1282.3 1394.6L1277.0 1394.6L1277.0 1368.8L1279.7 1368.8ZM1287.4 1373.7L1287.4 1389.5L1303.0 1389.5L1303.0 1373.7ZM1299.8 1367.2L1325.4 1367.2L1325.4 1369.8L1333.5 1369.8L1333.5 1395.6L1328.4 1395.6L1328.4 1403.7L1302.4 1403.7L1302.4 1398.6L1297.1 1398.6L1297.1 1372.8L1299.8 1372.8ZM1307.5 1377.7L1307.5 1393.5L1323.1 1393.5L1323.1 1377.7ZM1320.0 1371.0L1345.6 1371.0L1345.6 1373.6L1353.7 1373.6L1353.7 1399.4L1348.6 1399.4L1348.6 1407.5L1322.6 1407.5L1322.6 1402.4L1317.3 1402.4L1317.3 1376.6L1320.0 1376.6ZM1327.7 1381.5L1327.7 1397.3L1343.3 1397.3L1343.3 1381.5ZM1340.1 1374.8L1365.7 1374.8L1365.7 1377.4L1373.8 1377.4L1373.8 1403.2L1368.7 1403.2L1368.7 1411.3L1342.7 1411.3L1342.7 1406.2L1337.4 1406.2L1337.4 1380.4L1340.1 1380.4ZM1347.8 1385.3L1347.8 1401.1L1363.4 1401.1L1363.4 1385.3ZM1360.3 1378.6L1385.9 1378.6L1385.9 1381.2L1394.0 1381.2L1394.0 1407.0L1388.9 1407.0L1388.9 1415.1L1362.9 1415.1L1362.9 1410.0L1357.6 1410.0L1357.6 1384.2L1360.3 1384.2ZM1368.0 1389.1L1368.0 1404.9L1383.6 1404.9L1383.6 1389.1ZM1380.4 1382.3L1406.0 1382.3L1406.0 1384.9L1414.1 1384.9L1414.1 1410.7L1409.0 1410.7L1409.0 1418.8L1383.0 1418.8L1383.0 1413.7L1377.7 1413.7L1377.7 1387.9L1380.4 1387.9ZM1388.1 1392.8L1388.1 1408.6L1403.7 1408.6L1403.7 1392.8ZM1400.6 1385.9L1426.2 1385.9L1426.2 1388.5L1434.3 1388.5L1434.3 1414.3L1429.2 1414.3L1429.2 1422.4L1403.2 1422.4L1403.2 1417.3L1397.9 1417.3L1397.9 1391.5L1400.6 1391.5ZM1408.3 1396.4L1408.3 1412.2L1423.9 1412.2L1423.9 1396.4ZM1420.7 1389.5L1446.3 1389.5L1446.3 1392.1L1454.4 1392.1L1454.4 1417.9L1449.3 1417.9L1449.3 1426.0L1423.3 1426.0L1423.3 1420.9L1418.0 1420.9L1418.0 1395.1L1420.7 1395.1ZM1428.4 1400.0L1428.4 1415.8L1444.0 1415.8L1444.0 1400.0ZM1440.9 1393.0L1466.5 1393.0L1466.5 1395.6L1474.6 1395.6L1474.6 1421.4L1469.5 1421.4L1469.5 1429.5L1443.5 1429.5L1443.5 1424.4L1438.2 1424.4L1438.2 1398.6L1440.9 1398.6ZM1448.6 1403.5L1448.6 1419.3L1464.2 1419.3L1464.2 1403.5ZM1461.0 1396.4L1486.6 1396.4L1486.6 1399.0L1494.7 1399.0L1494.7 1424.8L1489.6 1424.8L1489.6 1432.9L1463.6 1432.9L1463.6 1427.8L1458.3 1427.8L1458.3 1402.0L1461.0 1402.0ZM1468.7 1406.9L1468.7 1422.7L1484.3 1422.7L1484.3 1406.9ZM1481.2 1399.8L1506.8 1399.8L1506.8 1402.4L1514.9 1402.4L1514.9 1428.2L1509.8 1428.2L1509.8 1436.3L1483.8 1436.3L1483.8 1431.2L1478.5 1431.2L1478.5 1405.4L1481.2 1405.4ZM1488.9 1410.3L1488.9 1426.1L1504.5 1426.1L1504.5 1410.3ZM1501.3 1403.2L1526.9 1403.2L1526.9 1405.8L1535.0 1405.8L1535.0 1431.6L1529.9 1431.6L1529.9 1439.7L1503.9 1439.7L1503.9 1434.6L1498.6 1434.6L1498.6 1408.8L1501.3 1408.8ZM1509.0 1413.7L1509.0 1429.5L1524.6 1429.5L1524.6 1413.7ZM1521.5 1406.5L1547.1 1406.5L1547.1 1409.1L1555.2 1409.1L1555.2 1434.9L1550.1 1434.9L1550.1 1443.0L1524.1 1443.0L1524.1 1437.9L1518.8 1437.9L1518.8 1412.1L1521.5 1412.1ZM1529.2 1417.0L1529.2 1432.8L1544.8 1432.8L1544.8 1417.0ZM1541.6 1409.7L1567.2 1409.7L1567.2 1412.3L1575.3 1412.3L1575.3 1438.1L1570.2 1438.1L1570.2 1446.2L1544.2 1446.2L1544.2 1441.1L1538.9 1441.1L1538.9 1415.3L1541.6 1415.3ZM1549.3 1420.2L1549.3 1436.0L1564.9 1436.0L1564.9 1420.2ZM1561.8 1412.9L1587.4 1412.9L1587.4 1415.5L1595.5 1415.5L1595.5 1441.3L1590.4 1441.3L1590.4 1449.4L1564.4 1449.4L1564.4 1444.3L1559.1 1444.3L1559.1 1418.5L1561.8 1418.5ZM1569.5 1423.4L1569.5 1439.2L1585.1 1439.2L1585.1 1423.4ZM1582.0 1416.1L1607.6 1416.1L1607.6 1418.7L1615.7 1418.7L1615.7 1444.5L1610.6 1444.5L1610.6 1452.6L1584.6 1452.6L1584.6 1447.5L1579.3 1447.5L1579.3 1421.7L1582.0 1421.7ZM1589.7 1426.6L1589.7 1442.4L1605.3 1442.4L1605.3 1426.6ZM1602.1 1419.2L1627.7 1419.2L1627.7 1421.8L1635.8 1421.8L1635.8 1447.6L1630.7 1447.6L1630.7 1455.7L1604.7 1455.7L1604.7 1450.6L1599.4 1450.6L1599.4 1424.8L1602.1 1424.8ZM1609.8 1429.7L1609.8 1445.5L1625.4 1445.5L1625.4 1429.7ZM1622.3 1422.3L1647.9 1422.3L1647.9 1424.9L1656.0 1424.9L1656.0 1450.7L1650.9 1450.7L1650.9 1458.8L1624.9 1458.8L1624.9 1453.7L1619.6 1453.7L1619.6 1427.9L1622.3 1427.9ZM1630.0 1432.8L1630.0 1448.6L1645.6 1448.6L1645.6 1432.8ZM1642.4 1425.3L1668.0 1425.3L1668.0 1427.9L1676.1 1427.9L1676.1 1453.7L1671.0 1453.7L1671.0 1461.8L1645.0 1461.8L1645.0 1456.7L1639.7 1456.7L1639.7 1430.9L1642.4 1430.9ZM1650.1 1435.8L1650.1 1451.6L1665.7 1451.6L1665.7 1435.8ZM1662.6 1428.3L1688.2 1428.3L1688.2 1430.9L1696.3 1430.9L1696.3 1456.7L1691.2 1456.7L1691.2 1464.8L1665.2 1464.8L1665.2 1459.7L1659.9 1459.7L1659.9 1433.9L1662.6 1433.9ZM1670.3 1438.8L1670.3 1454.6L1685.9 1454.6L1685.9 1438.8ZM1682.7 1431.2L1708.3 1431.2L1708.3 1433.8L1716.4 1433.8L1716.4 1459.6L1711.3 1459.6L1711.3 1467.7L1685.3 1467.7L1685.3 1462.6L1680.0 1462.6L1680.0 1436.8L1682.7 1436.8ZM1690.4 1441.7L1690.4 1457.5L1706.0 1457.5L1706.0 1441.7ZM1702.9 1434.2L1728.5 1434.2L1728.5 1436.8L1736.6 1436.8L1736.6 1462.6L1731.5 1462.6L1731.5 1470.7L1705.5 1470.7L1705.5 1465.6L1700.2 1465.6L1700.2 1439.8L1702.9 1439.8ZM1710.6 1444.7L1710.6 1460.5L1726.2 1460.5L1726.2 1444.7ZM1723.0 1437.0L1748.6 1437.0L1748.6 1439.6L1756.7 1439.6L1756.7 1465.4L1751.6 1465.4L1751.6 1473.5L1725.6 1473.5L1725.6 1468.4L1720.3 1468.4L1720.3 1442.6L1723.0 1442.6ZM1730.7 1447.5L1730.7 1463.3L1746.3 1463.3L1746.3 1447.5ZM1743.2 1439.9L1768.8 1439.9L1768.8 1442.5L1776.9 1442.5L1776.9 1468.3L1771.8 1468.3L1771.8 1476.4L1745.8 1476.4L1745.8 1471.3L1740.5 1471.3L1740.5 1445.5L1743.2 1445.5ZM1750.9 1450.4L1750.9 1466.2L1766.5 1466.2L1766.5 1450.4ZM1763.3 1442.6L1788.9 1442.6L1788.9 1445.2L1797.0 1445.2L1797.0 1471.0L1791.9 1471.0L1791.9 1479.1L1765.9 1479.1L1765.9 1474.0L1760.6 1474.0L1760.6 1448.2L1763.3 1448.2ZM1771.0 1453.1L1771.0 1468.9L1786.6 1468.9L1786.6 1453.1ZM1783.5 1445.2L1809.1 1445.2L1809.1 1447.8L1817.2 1447.8L1817.2 1473.6L1812.1 1473.6L1812.1 1481.7L1786.1 1481.7L1786.1 1476.6L1780.8 1476.6L1780.8 1450.8L1783.5 1450.8ZM1791.2 1455.7L1791.2 1471.5L1806.8 1471.5L1806.8 1455.7ZM1803.6 1447.9L1829.2 1447.9L1829.2 1450.5L1837.3 1450.5L1837.3 1476.3L1832.2 1476.3L1832.2 1484.4L1806.2 1484.4L1806.2 1479.3L1800.9 1479.3L1800.9 1453.5L1803.6 1453.5ZM1811.3 1458.4L1811.3 1474.2L1826.9 1474.2L1826.9 1458.4ZM1823.8 1450.5L1849.4 1450.5L1849.4 1453.1L1857.5 1453.1L1857.5 1478.9L1852.4 1478.9L1852.4 1487.0L1826.4 1487.0L1826.4 1481.9L1821.1 1481.9L1821.1 1456.1L1823.8 1456.1ZM1831.5 1461.0L1831.5 1476.8L1847.1 1476.8L1847.1 1461.0ZM1843.9 1453.0L1869.5 1453.0L1869.5 1455.6L1877.6 1455.6L1877.6 1481.4L1872.5 1481.4L1872.5 1489.5L1846.5 1489.5L1846.5 1484.4L1841.2 1484.4L1841.2 1458.6L1843.9 1458.6ZM1851.6 1463.5L1851.6 1479.3L1867.2 1479.3L1867.2 1463.5ZM1864.1 1455.6L1889.7 1455.6L1889.7 1458.2L1897.8 1458.2L1897.8 1484.0L1892.7 1484.0L1892.7 1492.1L1866.7 1492.1L1866.7 1487.0L1861.4 1487.0L1861.4 1461.2L1864.1 1461.2ZM1871.8 1466.1L1871.8 1481.9L1887.4 1481.9L1887.4 1466.1ZM1884.2 1458.1L1909.8 1458.1L1909.8 1460.7L1917.9 1460.7L1917.9 1486.5L1912.8 1486.5L1912.8 1494.6L1886.8 1494.6L1886.8 1489.5L1881.5 1489.5L1881.5 1463.7L1884.2 1463.7ZM1891.9 1468.6L1891.9 1484.4L1907.5 1484.4L1907.5 1468.6ZM1904.4 1460.5L1930.0 1460.5L1930.0 1463.1L1938.1 1463.1L1938.1 1488.9L1933.0 1488.9L1933.0 1497.0L1907.0 1497.0L1907.0 1491.9L1901.7 1491.9L1901.7 1466.1L1904.4 1466.1ZM1912.1 1471.0L1912.1 1486.8L1927.7 1486.8L1927.7 1471.0ZM1924.6 1463.0L1950.2 1463.0L1950.2 1465.6L1958.3 1465.6L1958.3 1491.4L1953.2 1491.4L1953.2 1499.5L1927.2 1499.5L1927.2 1494.4L1921.9 1494.4L1921.9 1468.6L1924.6 1468.6ZM1932.3 1473.5L1932.3 1489.3L1947.9 1489.3L1947.9 1473.5ZM1944.7 1465.4L1970.3 1465.4L1970.3 1468.0L1978.4 1468.0L1978.4 1493.8L1973.3 1493.8L1973.3 1501.9L1947.3 1501.9L1947.3 1496.8L1942.0 1496.8L1942.0 1471.0L1944.7 1471.0ZM1952.4 1475.9L1952.4 1491.7L1968.0 1491.7L1968.0 1475.9ZM1964.9 1467.8L1990.5 1467.8L1990.5 1470.4L1998.6 1470.4L1998.6 1496.2L1993.5 1496.2L1993.5 1504.3L1967.5 1504.3L1967.5 1499.2L1962.2 1499.2L1962.2 1473.4L1964.9 1473.4ZM1972.6 1478.3L1972.6 1494.1L1988.2 1494.1L1988.2 1478.3ZM1985.0 1470.2L2010.6 1470.2L2010.6 1472.8L2018.7 1472.8L2018.7 1498.6L2013.6 1498.6L2013.6 1506.7L1987.6 1506.7L1987.6 1501.6L1982.3 1501.6L1982.3 1475.8L1985.0 1475.8ZM1992.7 1480.7L1992.7 1496.5L2008.3 1496.5L2008.3 1480.7ZM2005.2 1472.5L2030.8 1472.5L2030.8 1475.1L2038.9 1475.1L2038.9 1500.9L2033.8 1500.9L2033.8 1509.0L2007.8 1509.0L2007.8 1503.9L2002.5 1503.9L2002.5 1478.1L2005.2 1478.1ZM2012.9 1483.0L2012.9 1498.8L2028.5 1498.8L2028.5 1483.0ZM2025.3 1474.8L2050.9 1474.8L2050.9 1477.4L2059.0 1477.4L2059.0 1503.2L2053.9 1503.2L2053.9 1511.3L2027.9 1511.3L2027.9 1506.2L2022.6 1506.2L2022.6 1480.4L2025.3 1480.4ZM2033.0 1485.3L2033.0 1501.1L2048.6 1501.1L2048.6 1485.3ZM2045.5 1477.1L2071.1 1477.1L2071.1 1479.7L2079.2 1479.7L2079.2 1505.5L2074.1 1505.5L2074.1 1513.6L2048.1 1513.6L2048.1 1508.5L2042.8 1508.5L2042.8 1482.7L2045.5 1482.7ZM2053.2 1487.6L2053.2 1503.4L2068.8 1503.4L2068.8 1487.6ZM2065.6 1479.4L2091.2 1479.4L2091.2 1482.0L2099.3 1482.0L2099.3 1507.8L2094.2 1507.8L2094.2 1515.9L2068.2 1515.9L2068.2 1510.8L2062.9 1510.8L2062.9 1485.0L2065.6 1485.0ZM2073.3 1489.9L2073.3 1505.7L2088.9 1505.7L2088.9 1489.9ZM2085.8 1481.6L2111.4 1481.6L2111.4 1484.2L2119.5 1484.2L2119.5 1510.0L2114.4 1510.0L2114.4 1518.1L2088.4 1518.1L2088.4 1513.0L2083.1 1513.0L2083.1 1487.2L2085.8 1487.2ZM2093.5 1492.1L2093.5 1507.9L2109.1 1507.9L2109.1 1492.1ZM2105.9 1483.8L2131.5 1483.8L2131.5 1486.4L2139.6 1486.4L2139.6 1512.2L2134.5 1512.2L2134.5 1520.3L2108.5 1520.3L2108.5 1515.2L2103.2 1515.2L2103.2 1489.4L2105.9 1489.4ZM2113.6 1494.3L2113.6 1510.1L2129.2 1510.1L2129.2 1494.3ZM2126.1 1486.0L2151.7 1486.0L2151.7 1488.6L2159.8 1488.6L2159.8 1514.4L2154.7 1514.4L2154.7 1522.5L2128.7 1522.5L2128.7 1517.4L2123.4 1517.4L2123.4 1491.6L2126.1 1491.6ZM2133.8 1496.5L2133.8 1512.3L2149.4 1512.3L2149.4 1496.5ZM2146.2 1488.2L2171.8 1488.2L2171.8 1490.8L2179.9 1490.8L2179.9 1516.6L2174.8 1516.6L2174.8 1524.7L2148.8 1524.7L2148.8 1519.6L2143.5 1519.6L2143.5 1493.8L2146.2 1493.8ZM2153.9 1498.7L2153.9 1514.5L2169.5 1514.5L2169.5 1498.7ZM2166.4 1490.4L2192.0 1490.4L2192.0 1493.0L2200.1 1493.0L2200.1 1518.8L2195.0 1518.8L2195.0 1526.9L2169.0 1526.9L2169.0 1521.8L2163.7 1521.8L2163.7 1496.0L2166.4 1496.0ZM2174.1 1500.9L2174.1 1516.7L2189.7 1516.7L2189.7 1500.9ZM2186.5 1492.5L2212.1 1492.5L2212.1 1495.1L2220.2 1495.1L2220.2 1520.9L2215.1 1520.9L2215.1 1529.0L2189.1 1529.0L2189.1 1523.9L2183.8 1523.9L2183.8 1498.1L2186.5 1498.1ZM2194.2 1503.0L2194.2 1518.8L2209.8 1518.8L2209.8 1503.0ZM2206.7 1494.6L2232.3 1494.6L2232.3 1497.2L2240.4 1497.2L2240.4 1523.0L2235.3 1523.0L2235.3 1531.1L2209.3 1531.1L2209.3 1526.0L2204.0 1526.0L2204.0 1500.2L2206.7 1500.2ZM2214.4 1505.1L2214.4 1520.9L2230.0 1520.9L2230.0 1505.1ZM2226.8 1496.7L2252.4 1496.7L2252.4 1499.3L2260.5 1499.3L2260.5 1525.1L2255.4 1525.1L2255.4 1533.2L2229.4 1533.2L2229.4 1528.1L2224.1 1528.1L2224.1 1502.3L2226.8 1502.3ZM2234.5 1507.2L2234.5 1523.0L2250.1 1523.0L2250.1 1507.2ZM2247.0 1498.8L2272.6 1498.8L2272.6 1501.4L2280.7 1501.4L2280.7 1527.2L2275.6 1527.2L2275.6 1535.3L2249.6 1535.3L2249.6 1530.2L2244.3 1530.2L2244.3 1504.4L2247.0 1504.4ZM2254.7 1509.3L2254.7 1525.1L2270.3 1525.1L2270.3 1509.3Z" fill="#77ac30" fill-rule="nonzero"/>
<g fill="#262626" font-size="64">
<text transform="translate(115.8 77.2) scale(1 0.972)" x="0" y="0" textLength="108.0" lengthAdjust="spacingAndGlyphs">-15</text>
<text transform="translate(115.8 303.4) scale(1 0.972)" x="0" y="0" textLength="109.4" lengthAdjust="spacingAndGlyphs">-20</text>
<text transform="translate(115.8 531.7) scale(1 0.972)" x="0" y="0" textLength="108.0" lengthAdjust="spacingAndGlyphs">-25</text>
<text transform="translate(115.8 757.9) scale(1 0.972)" x="0" y="0" textLength="109.4" lengthAdjust="spacingAndGlyphs">-30</text>
<text transform="translate(115.8 983.3) scale(1 0.972)" x="0" y="0" textLength="108.0" lengthAdjust="spacingAndGlyphs">-35</text>
<text transform="translate(115.8 1210.0) scale(1 0.972)" x="0" y="0" textLength="109.4" lengthAdjust="spacingAndGlyphs">-40</text>
<text transform="translate(115.8 1438.7) scale(1 0.972)" x="0" y="0" textLength="108.0" lengthAdjust="spacingAndGlyphs">-45</text>
<text transform="translate(115.8 1664.8) scale(1 0.972)" x="0" y="0" textLength="109.4" lengthAdjust="spacingAndGlyphs">-50</text>
<text transform="translate(226.4 1727.0) scale(1 0.972)" x="0" y="0" textLength="43.3" lengthAdjust="spacingAndGlyphs">0</text>
<text transform="translate(709.0 1727.0) scale(1 0.972)" x="0" y="0" textLength="85.4" lengthAdjust="spacingAndGlyphs">50</text>
<text transform="translate(1192.8 1727.0) scale(1 0.972)" x="0" y="0" textLength="126.3" lengthAdjust="spacingAndGlyphs">100</text>
<text transform="translate(1694.6 1727.0) scale(1 0.972)" x="0" y="0" textLength="125.5" lengthAdjust="spacingAndGlyphs">150</text>
<text transform="translate(2197.5 1727.0) scale(1 0.972)" x="0" y="0" textLength="127.2" lengthAdjust="spacingAndGlyphs">200</text>
<text x="1240.5" y="1811.0" textLength="27.8" lengthAdjust="spacingAndGlyphs">r</text>
<text transform="translate(84.3 989.9) rotate(-90)" x="0" y="0" textLength="285.5" lengthAdjust="spacingAndGlyphs">u(M)(dB)</text>
</g>
<rect x="1217.3" y="97.3" width="997.8999999999999" height="765.9000000000001" fill="#fff" stroke="#262626" stroke-width="2.8"/>
<path d="M1231.2 139.9H1392.6V152.7H1231.2Z" fill="#000"/>
<path d="M1231.2 236.1H1272.9V248.9H1231.2ZM1314.3 236.1H1356.0V248.9H1314.3Z" fill="#f00"/>
<path d="M1309.2 345.1h10.6v5.25h5.14v10.25h-5.14v8h-10.6v-8h-7.66v-10.25h7.66z" fill="#00f"/>
<path d="M1231.0 459.6H1273.0V472.4H1231.0ZM1283.4 459.6H1304.1V472.4H1283.4ZM1314.7 459.6H1356.7V472.4H1314.7ZM1367.1 459.6H1387.5V472.4H1367.1Z" fill="#6e8f45"/>
<path d="M1231.0 571.4H1273.0V584.2H1231.0ZM1283.4 571.4H1304.1V584.2H1283.4ZM1314.7 571.4H1356.7V584.2H1314.7ZM1367.1 571.4H1387.5V584.2H1367.1Z" fill="#f0f"/>
<path d="M1231.2 683.0H1242.0V695.8H1231.2ZM1252.0 683.0H1262.8V695.8H1252.0ZM1272.9 683.0H1283.6V695.8H1272.9ZM1293.7 683.0H1304.4V695.8H1293.7ZM1314.5 683.0H1325.3V695.8H1314.5ZM1335.3 683.0H1346.1V695.8H1335.3ZM1356.2 683.0H1366.9V695.8H1356.2ZM1377.0 683.0H1387.3V695.8H1377.0Z" fill="#000"/>
<path d="M1299.0 784.2L1324.6 784.2L1324.6 786.8L1332.7 786.8L1332.7 812.6L1327.6 812.6L1327.6 820.7L1301.6 820.7L1301.6 815.6L1296.3 815.6L1296.3 789.8L1299.0 789.8ZM1306.7 794.7L1306.7 810.5L1322.3 810.5L1322.3 794.7Z" fill="#77ac30"/>
<g fill="#000" font-size="64">
<text transform="translate(1404.1 170.6) scale(1 0.985)" x="0" y="0" textLength="795.3" lengthAdjust="spacingAndGlyphs">Ray Asymptotic Solution</text>
<text transform="translate(0 253.7) scale(1 0.985)"><tspan x="1404.1" y="0.0" textLength="35.8" lengthAdjust="spacingAndGlyphs">L</tspan><tspan x="1441.7" y="31.6" textLength="45.2" lengthAdjust="spacingAndGlyphs" font-size="51.5">M</tspan> <tspan x="1509.4" y="0.0" textLength="56.8" lengthAdjust="spacingAndGlyphs">=</tspan> <tspan x="1584.0" y="0.0" textLength="324.3" lengthAdjust="spacingAndGlyphs">44.7, GBS</tspan></text>
<text transform="translate(0 365.7) scale(1 0.985)"><tspan x="1404.1" y="0.0" textLength="35.8" lengthAdjust="spacingAndGlyphs">L</tspan><tspan x="1441.7" y="31.6" textLength="45.2" lengthAdjust="spacingAndGlyphs" font-size="51.5">M</tspan> <tspan x="1509.4" y="0.0" textLength="56.8" lengthAdjust="spacingAndGlyphs">=</tspan> <tspan x="1584.0" y="0.0" textLength="262.1" lengthAdjust="spacingAndGlyphs">20, GBS</tspan></text>
<text transform="translate(0 477.5) scale(1 0.985)"><tspan x="1404.1" y="0.0" textLength="35.8" lengthAdjust="spacingAndGlyphs">L</tspan><tspan x="1441.7" y="31.6" textLength="45.2" lengthAdjust="spacingAndGlyphs" font-size="51.5">M</tspan> <tspan x="1509.4" y="0.0" textLength="56.8" lengthAdjust="spacingAndGlyphs">=</tspan> <tspan x="1584.9" y="0.0" textLength="323.4" lengthAdjust="spacingAndGlyphs">14.1, GBS</tspan></text>
<text transform="translate(0 589.0) scale(1 0.985)"><tspan x="1404.1" y="0.0" textLength="35.8" lengthAdjust="spacingAndGlyphs">L</tspan><tspan x="1441.7" y="31.6" textLength="45.2" lengthAdjust="spacingAndGlyphs" font-size="51.5">M</tspan> <tspan x="1509.4" y="0.0" textLength="56.8" lengthAdjust="spacingAndGlyphs">=</tspan> <tspan x="1584.9" y="0.0" textLength="261.2" lengthAdjust="spacingAndGlyphs">10, GBS</tspan></text>
<text transform="translate(0 701.0) scale(1 0.985)"><tspan x="1404.1" y="0.0" textLength="35.8" lengthAdjust="spacingAndGlyphs">L</tspan><tspan x="1441.7" y="31.6" textLength="45.2" lengthAdjust="spacingAndGlyphs" font-size="51.5">M</tspan> <tspan x="1509.4" y="0.0" textLength="56.8" lengthAdjust="spacingAndGlyphs">=</tspan> <tspan x="1585.0" y="0.0" textLength="219.9" lengthAdjust="spacingAndGlyphs">5, GBS</tspan></text>
<text transform="translate(0 812.5) scale(1 0.985)"><tspan x="1404.1" y="0.0" textLength="35.8" lengthAdjust="spacingAndGlyphs">L</tspan><tspan x="1441.7" y="31.6" textLength="45.2" lengthAdjust="spacingAndGlyphs" font-size="51.5">M</tspan> <tspan x="1509.4" y="0.0" textLength="56.8" lengthAdjust="spacingAndGlyphs">=</tspan> <tspan x="1584.9" y="0.0" textLength="282.4" lengthAdjust="spacingAndGlyphs">1.4, GBS</tspan></text>
</g>
</svg></body></html>
